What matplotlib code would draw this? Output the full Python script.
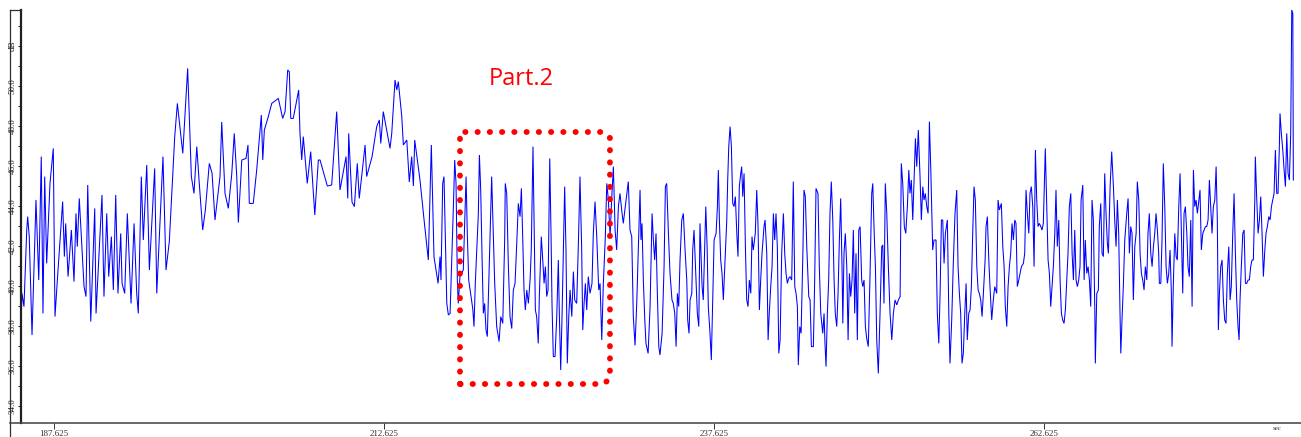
import numpy as np
import matplotlib
matplotlib.use("Agg")
import matplotlib.pyplot as plt
from matplotlib.lines import Line2D

#                            Recorded data                          #
# Sound level trace: time stamp (sec) and level (dB)
time_s = [
    185.13, 185.20, 185.35, 185.56, 185.63, 185.75, 185.96, 186.26, 186.47, 186.66,
    186.79, 186.92, 187.07, 187.32, 187.57, 187.70, 187.88, 188.28, 188.41, 188.51,
    188.69, 188.94, 189.14, 189.29, 189.39, 189.54, 189.90, 190.05, 190.18, 190.41,
    190.71, 190.81, 191.26, 191.41, 191.62, 191.77, 191.97, 192.12, 192.30, 192.47,
    192.68, 192.78, 192.98, 193.18, 193.46, 193.69, 193.89, 194.01, 194.24, 194.39,
    194.65, 194.85, 195.25, 195.41, 195.88, 196.11, 196.36, 196.77, 196.97, 197.38,
    197.75, 198.03, 198.23, 198.44, 198.63, 198.89, 199.09, 199.39, 199.60, 199.82,
    200.20,
    200.33, 200.58, 200.83, 201.09, 201.28, 201.47, 201.59, 201.85, 202.17, 202.32,
    202.42, 202.72, 202.98, 203.33, 203.44, 203.56, 203.86, 204.12, 204.62, 204.95,
    205.13, 205.33, 205.45, 205.56, 205.75, 206.16, 206.26, 206.39, 206.51, 206.81,
    207.07, 207.38, 207.65, 207.78, 208.33, 208.66, 209.04, 209.29, 209.75, 209.88,
    209.95, 210.20, 210.38, 210.60, 210.75, 211.19, 211.31, 211.72, 212.07, 212.27,
    212.38, 212.57, 213.08, 213.21, 213.46, 213.59, 213.71, 213.97, 214.09, 214.35,
    214.54, 214.72, 214.85, 214.95, 215.35, 215.66, 215.98, 216.21, 216.41, 216.72,
    216.87,
    216.94, 217.07, 217.17, 217.38, 217.50, 217.63, 217.88, 217.98, 218.08, 218.18,
    218.25, 218.38, 218.63, 218.84, 218.94, 219.04, 219.35, 219.44, 219.54, 219.77,
    219.85, 219.95, 220.05, 220.15, 220.25, 220.35, 220.45, 220.66, 220.78, 220.91,
    221.01, 221.16, 221.34, 221.47, 221.62, 221.77, 221.81, 221.92, 222.04, 222.17,
    222.30, 222.42, 222.55, 222.68, 222.80, 222.93, 223.03, 223.13, 223.23, 223.33,
    223.44, 223.56, 223.69, 223.78, 223.91, 224.01, 224.09, 224.19, 224.31, 224.39,
    224.54, 224.65, 224.75, 224.85, 224.95, 225.05, 225.18, 225.28, 225.35, 225.45,
    225.58, 225.71, 225.83, 225.91, 226.01, 226.11, 226.21, 226.31, 226.41, 226.51,
    226.62, 226.72, 226.85, 226.97, 227.07, 227.22, 227.35, 227.47, 227.60, 227.68,
    227.78, 227.88, 227.98, 228.10, 228.23, 228.38, 228.48, 228.61, 228.74, 228.89,
    228.99, 229.12, 229.24, 229.39, 229.50, 229.62, 229.75, 229.88, 230.00, 230.13,
    230.25, 230.38, 230.50, 230.63, 230.75, 231.13, 231.26, 231.39, 231.51, 231.64,
    231.77, 231.89,
    232.02, 232.09, 232.17, 232.27, 232.38, 232.47, 232.63, 232.78, 232.93, 233.03,
    233.13, 233.23, 233.33, 233.44, 233.53, 233.69, 233.84, 233.94, 234.04, 234.16,
    234.29, 234.44, 234.54, 234.65, 234.75, 234.85, 234.95, 235.05, 235.18, 235.30,
    235.43, 235.56, 235.63, 235.73, 235.81, 235.94, 236.01, 236.11, 236.26, 236.36,
    236.47, 236.56, 236.72, 236.81, 236.89, 237.00, 237.10, 237.19, 237.32, 237.42,
    237.50, 237.63, 237.78, 237.88, 237.95, 238.03, 238.13, 238.23, 238.33, 238.48,
    238.59, 238.66, 238.74, 238.84, 238.94, 239.04, 239.14, 239.24, 239.35, 239.44,
    239.54, 239.65, 239.72, 239.80, 239.90, 240.00, 240.10, 240.20, 240.30, 240.41,
    240.50, 240.60, 240.75, 240.86, 240.96, 241.06, 241.16, 241.26, 241.41, 241.49,
    241.62, 241.72, 241.81, 241.92, 242.02, 242.12, 242.22, 242.32, 242.42, 242.53,
    242.63, 242.75, 242.88, 242.98, 243.08, 243.18, 243.28, 243.38, 243.51, 243.63,
    243.74, 243.84, 243.94, 244.01, 244.12, 244.22, 244.35, 244.44, 244.54, 244.65,
    244.80, 244.90, 245.00, 245.15, 245.25, 245.35, 245.50, 245.60, 245.71, 245.86,
    245.96, 246.03, 246.11, 246.21, 246.31, 246.41, 246.51, 246.62, 246.72, 246.81,
    246.92, 247.02, 247.12, 247.22, 247.32, 247.38, 247.47, 247.57, 247.68, 247.78,
    247.88, 247.98, 248.08, 248.18, 248.28, 248.38, 248.48, 248.59, 248.69,
    248.81, 248.89, 248.99, 249.09, 249.19, 249.31, 249.44, 249.57, 249.65, 249.75,
    249.85, 249.95, 250.07, 250.20, 250.33, 250.41, 250.50, 250.60, 250.71, 250.83,
    250.96, 251.09, 251.21, 251.34, 251.47, 251.59, 251.72, 251.81, 251.92, 252.04,
    252.15, 252.27, 252.38, 252.47, 252.57, 252.68, 252.78, 252.88, 252.98, 253.10,
    253.23, 253.33, 253.44, 253.53, 253.63, 253.74, 253.84, 253.94, 254.04, 254.19,
    254.29, 254.44, 254.54, 254.65, 254.75, 254.85, 254.95, 255.05, 255.15, 255.30,
    255.41, 255.50, 255.63, 255.75, 255.88, 256.01, 256.11, 256.21, 256.31, 256.41,
    256.51, 256.62, 256.72, 256.81, 256.92, 257.02, 257.12, 257.22, 257.32, 257.42,
    257.53, 257.63, 257.72, 257.83, 257.93, 258.03, 258.16, 258.23, 258.33, 258.44,
    258.53, 258.66, 258.78, 258.89, 259.04, 259.14, 259.24, 259.39, 259.50, 259.60,
    259.69, 259.80, 259.90, 260.00, 260.10, 260.20, 260.30, 260.41, 260.50, 260.60,
    260.71, 260.81, 260.91, 261.06, 261.16, 261.26, 261.36, 261.47, 261.56, 261.66,
    261.77, 261.87, 261.97, 262.07, 262.17, 262.27, 262.38, 262.47, 262.57, 262.72,
    262.83, 262.93, 263.03, 263.13, 263.23, 263.33, 263.44, 263.53, 263.63, 263.74,
    263.84, 263.94, 264.04, 264.14, 264.24, 264.35, 264.44, 264.54, 264.65, 264.75,
    264.85, 264.95, 265.05, 265.15, 265.25, 265.35,
    265.43, 265.56, 265.66, 265.75, 265.86, 265.96, 266.06, 266.16, 266.26, 266.36,
    266.47, 266.51, 266.62, 266.74, 266.81, 266.92, 267.02, 267.12, 267.22, 267.32,
    267.42, 267.50, 267.63, 267.75, 267.88, 267.98, 268.08, 268.18, 268.28, 268.38,
    268.44, 268.53, 268.63, 268.74, 268.89, 268.99, 269.09, 269.19, 269.29, 269.39,
    269.50, 269.60, 269.69, 269.80, 269.90, 270.00, 270.10, 270.20, 270.30, 270.41,
    270.50, 270.60, 270.71, 270.81, 270.91, 271.01, 271.11, 271.21, 271.31, 271.36,
    271.47, 271.56, 271.66, 271.77, 271.87, 271.97, 272.07, 272.17, 272.27, 272.32,
    272.42, 272.53, 272.63, 272.72, 272.83, 272.93, 273.03, 273.13, 273.23, 273.33,
    273.44, 273.53, 273.63, 273.74, 273.84, 273.94, 274.04, 274.14, 274.24, 274.35,
    274.44, 274.54, 274.65, 274.75, 274.85, 274.95, 275.05, 275.15, 275.25, 275.35,
    275.45, 275.56, 275.66, 275.75, 275.83, 275.91, 276.01, 276.11, 276.21, 276.31,
    276.41, 276.51, 276.62, 276.72, 276.81, 276.92, 277.02, 277.12, 277.22, 277.32,
    277.40, 277.47, 277.57, 277.68, 277.78, 277.88, 277.98, 278.08, 278.18, 278.28,
    278.38, 278.48, 278.59, 278.63, 278.74, 278.84, 278.94, 279.04, 279.14, 279.24,
    279.35, 279.44, 279.54, 279.65, 279.75, 279.85, 279.95, 280.05, 280.15, 280.25,
    280.35, 280.45, 280.50, 280.60, 280.71, 280.81, 280.91, 281.01, 281.11, 281.21,
    281.31, 281.39, 281.47, 281.51,
]

level_db = [
    38.13, 39.63, 38.97, 42.80, 43.47, 42.47, 37.55, 44.30, 40.30, 46.47,
    38.63, 45.47, 41.13, 45.13, 46.88, 38.47, 40.30, 44.22, 41.47, 43.13,
    40.47, 42.80, 40.22, 43.63, 41.97, 44.38, 39.97, 39.47, 45.05, 38.22,
    43.88, 38.63, 44.55, 39.47, 43.63, 40.47, 42.47, 39.80, 44.55, 39.63,
    42.63, 40.13, 39.63, 43.63, 39.13, 43.13, 39.63, 38.63, 45.47, 42.30,
    46.05, 40.80, 45.88, 39.63, 46.47, 40.80, 42.22, 47.47, 49.13, 46.63,
    50.88, 45.47, 44.63, 46.97, 45.13, 42.80, 43.80, 46.13, 45.63, 43.30,
    45.47,
    48.20, 44.63, 43.88, 45.60, 47.63, 45.47, 43.17, 46.30, 46.38, 47.05,
    44.13, 44.13, 45.80, 48.55, 46.30, 47.80, 48.47, 49.13, 49.38, 48.38,
    48.72, 50.80, 50.72, 48.38, 48.38, 49.80, 47.63, 46.30, 47.47, 45.13,
    46.72, 43.55, 46.30, 46.30, 45.00, 45.05, 48.72, 44.80, 46.47, 44.38,
    47.63, 44.20, 43.97, 46.13, 44.38, 47.05, 45.47, 46.47, 47.97, 48.30,
    47.13, 48.72, 46.88, 47.63, 50.30, 49.80, 50.22, 48.47, 47.05, 47.30,
    45.20, 46.47, 45.00, 47.30, 45.30, 43.30, 41.30, 47.05, 41.47, 40.13,
    41.47,
    40.30, 45.13, 45.47, 39.13, 38.55, 38.63, 43.97, 46.30, 45.13, 40.30,
    39.13, 40.47, 40.80, 45.47, 42.47, 40.30, 38.85, 37.97, 40.13, 43.60,
    46.55, 44.80, 41.47, 38.63, 39.13, 37.80, 37.47, 42.47, 45.47, 42.47,
    40.13, 37.97, 37.22, 38.47, 38.13, 42.47, 45.13, 44.63, 41.13, 38.47,
    37.87, 39.80, 40.13, 42.13, 44.13, 43.47, 44.88, 42.47, 39.80, 38.80,
    39.80, 39.13, 40.30, 41.80, 46.97, 42.47, 38.80, 38.47, 37.13, 39.47,
    42.47, 41.30, 40.13, 40.97, 39.47, 39.80, 46.38, 42.47, 39.13, 36.47,
    36.47, 38.47, 41.30, 38.47, 35.80, 38.47, 41.63, 44.97, 41.80, 36.13,
    38.47, 39.80, 38.47, 40.72, 39.30, 39.13, 42.13, 45.47, 41.80, 37.80,
    39.13, 40.13, 38.80, 40.47, 39.63, 40.13, 42.63, 44.22, 42.47, 39.80,
    40.13, 37.30, 40.13, 42.47, 45.13, 44.30, 42.47, 44.47, 45.97, 42.80,
    41.80, 43.97, 44.63, 43.80, 43.13, 45.22, 42.80, 42.47, 38.47, 37.03,
    39.13, 41.80,
    44.80, 42.30, 43.13, 40.30, 38.30, 37.13, 36.63, 38.97, 43.63, 42.30,
    41.30, 42.63, 39.63, 36.97, 36.55, 37.63, 40.97, 44.97, 45.13, 42.80,
    40.63, 39.30, 39.13, 38.63, 36.97, 39.63, 38.97, 41.30, 43.30, 43.63,
    41.80, 40.30, 38.30, 37.63, 39.30, 39.63, 41.80, 42.80, 40.30, 38.63,
    37.97, 43.13, 39.97, 39.30, 41.30, 43.97, 41.97, 38.97, 37.63, 36.30,
    38.63, 42.30, 42.63, 43.97, 45.80, 43.30, 41.30, 40.63, 39.30, 41.63,
    43.30, 45.30, 46.97, 47.97, 46.97, 44.13, 43.97, 44.47, 42.63, 41.47,
    44.97, 45.63, 45.97, 44.47, 45.63, 41.97, 39.30, 38.97, 40.30, 39.63,
    42.47, 41.80, 42.63, 44.80, 42.97, 38.80, 40.30, 41.63, 42.97, 43.30,
    41.63, 37.30, 38.63, 39.97, 40.97, 43.63, 42.30, 43.63, 41.97, 36.63,
    37.30, 41.63, 43.63, 41.63, 40.63, 40.13, 40.38, 40.47, 40.30, 45.22,
    39.97, 39.63, 38.97, 36.05, 37.97, 37.63, 41.47, 44.80, 44.47, 41.97,
    39.47, 39.30, 36.97, 36.97, 40.30, 44.88, 44.63, 40.97, 38.63, 37.63,
    38.63, 37.13, 35.97, 38.63, 40.30, 43.63, 45.22, 43.30, 40.30, 38.63,
    37.97, 39.63, 42.30, 44.38, 40.97, 38.13, 41.63, 42.63, 40.97, 37.30,
    40.63, 39.47, 40.30, 42.80, 38.63, 41.63, 37.30, 42.80, 42.97,
    40.30, 39.97, 40.30, 37.97, 37.38, 36.97, 40.47, 44.63, 45.13, 42.80,
    40.97, 37.30, 35.63, 38.63, 41.97, 42.05, 39.13, 45.13, 43.63, 40.97,
    38.63, 37.30, 38.63, 39.30, 39.05, 39.30, 39.47, 46.13, 45.13, 42.97,
    42.63, 43.97, 45.80, 44.63, 45.30, 43.30, 45.30, 47.38, 45.97, 47.80,
    45.47, 43.30, 44.97, 44.30, 44.63, 43.97, 43.63, 48.22, 45.97, 41.80,
    42.30, 42.30, 38.63, 37.13, 39.63, 43.30, 43.30, 41.13, 42.63, 43.30,
    38.63, 36.13, 38.30, 41.13, 43.63, 44.80, 40.97, 39.63, 38.63, 36.13,
    36.63, 38.63, 40.13, 37.30, 38.63, 38.80, 39.97, 42.63, 44.97, 44.30,
    40.97, 39.80, 39.63, 39.30, 38.47, 39.63, 41.30, 42.97, 43.47, 41.30,
    39.97, 38.30, 39.30, 39.97, 39.63, 44.30, 43.80, 44.13, 41.97, 40.97,
    38.97, 37.97, 39.97, 40.97, 41.63, 43.13, 42.30, 43.30, 43.13, 39.97,
    40.30, 40.63, 40.97, 41.13, 41.63, 44.80, 43.63, 42.63, 44.63, 44.97,
    43.97, 40.97, 46.80, 44.30, 42.97, 43.13, 42.97, 42.80, 43.13, 46.88,
    43.97, 41.30, 40.63, 38.97, 39.97, 40.97, 42.63, 44.80, 41.97, 43.30,
    40.30, 38.63, 38.30, 38.13, 38.80, 40.30, 41.63, 43.97, 44.63, 41.63,
    40.30, 42.80, 40.30, 39.97, 40.30, 40.97,
    44.30, 45.05, 40.30, 42.30, 40.63, 40.97, 40.30, 38.97, 44.30, 43.30,
    38.80, 36.13, 39.63, 39.80, 42.97, 44.13, 41.63, 41.47, 45.63, 43.63,
    42.13, 41.63, 44.97, 46.72, 44.97, 43.30, 41.97, 44.30, 42.63, 38.63,
    36.63, 38.30, 39.97, 42.30, 43.63, 44.38, 41.63, 42.97, 42.63, 39.30,
    41.97, 42.63, 45.22, 44.30, 41.63, 40.63, 40.30, 39.80, 40.97, 40.30,
    42.63, 43.63, 41.63, 40.97, 41.97, 42.63, 43.63, 42.80, 41.63, 40.13,
    40.13, 42.30, 46.13, 43.97, 40.97, 40.13, 40.63, 41.80, 39.63, 36.97,
    40.13, 42.63, 41.47, 41.30, 43.97, 45.63, 42.63, 39.63, 43.63, 43.97,
    42.63, 40.97, 40.47, 43.30, 38.97, 45.80, 43.97, 44.30, 43.63, 44.30,
    44.80, 41.80, 42.63, 42.80, 42.97, 42.97, 43.30, 45.30, 43.97, 42.63,
    43.97, 44.30, 45.97, 43.30, 37.80, 39.63, 40.97, 41.30, 39.30, 38.30,
    38.13, 40.63, 41.97, 39.30, 39.97, 42.63, 44.63, 41.63, 39.30, 37.97,
    37.30, 39.30, 40.97, 42.63, 42.80, 40.13, 40.13, 40.30, 40.30, 40.97,
    41.30, 41.30, 44.30, 46.47, 44.30, 42.63, 43.30, 44.47, 42.63, 40.47,
    41.80, 42.63, 42.97, 43.47, 43.30, 43.97, 44.30, 44.63, 46.80, 44.63,
    44.63, 46.97, 48.63, 47.63, 46.80, 45.80, 44.97, 47.63, 45.63, 45.30,
    47.63, 53.80, 53.63, 45.30,
]

# Axis ticks
x_ticks = [187.625, 212.625, 237.625, 262.625]
x_tick_labels = ["187.625", "212.625", "237.625", "262.625"]
y_ticks = [34, 36, 38, 40, 42, 44, 46, 48, 50, 52]
y_tick_labels = ["34.0", "36.0", "38.0", "40.0", "42.0", "44.0", "46.0", "48.0", "50.0", "dB"]

# Section marked on the trace
part_label = "Part.2"
part_start, part_end = 218.38, 229.74
part_low, part_high = 35.1, 47.7

W, H = 1301, 437


#                            Plotting                          #
def px(x, y):
    # figure fraction from pixel position (origin top left)
    return x / W, 1 - y / H


def dotted_box(ax, x0, x1, y0, y1, cut_x=0.45, cut_y=0.3):
    # red dotted frame, right-hand corners cut off a little
    xs = [x0, x0, x1 - cut_x, x1, x1, x1 - cut_x, x0]
    ys = [y0, y1, y1, y1 - cut_y, y0 + cut_y, y0, y0]
    ax.plot(xs, ys, color="#ff0000", lw=4.2, linestyle=(0, (0.05, 2.05)),
            dash_capstyle="round", solid_joinstyle="round", zorder=3)


plt.rcParams["font.family"] = ["Liberation Serif", "DejaVu Serif"]
fig = plt.figure(figsize=(W / 100, H / 100), dpi=100)
x0, y0 = px(21, 423)
ax = fig.add_axes([x0, y0, 1280 / W, 413 / H])

ax.plot(time_s, level_db, color="#0000ff", lw=0.75, solid_joinstyle="miter")

ax.set_xlim(185.125, 282.09)
ax.set_ylim(33.15, 53.8)

# Ticks and labels
ax.set_xticks(x_ticks)
ax.set_xticklabels(x_tick_labels)
ax.set_yticks(y_ticks)
ax.set_yticklabels(y_tick_labels, rotation=90, va="center")
ax.set_yticks(np.arange(35, 54, 2), minor=True)
ax.tick_params(axis="x", direction="out", length=4, width=0.7, pad=1,
               labelsize=6.5, colors="#333333")
ax.tick_params(axis="y", which="both", direction="out", length=2, width=0.7,
               pad=1, labelsize=6.5, colors="#222222")

for side in ["top", "right"]:
    ax.spines[side].set_visible(False)
ax.spines["left"].set_linewidth(1.6)
ax.spines["left"].set_color("#202020")
ax.spines["bottom"].set_linewidth(1.1)
ax.spines["bottom"].set_color("#404040")

# Frame around the level scale
fig.add_artist(Line2D([px(10, 0)[0], px(10, 0)[0]], [px(0, 437)[1], px(0, 10)[1]],
                      color="#303030", lw=0.9))
fig.add_artist(Line2D([px(10, 0)[0], px(21, 0)[0]], [px(0, 10)[1], px(0, 10)[1]],
                      color="#303030", lw=0.9))
fig.add_artist(Line2D([px(10, 0)[0], px(21, 0)[0]], [px(0, 423)[1], px(0, 423)[1]],
                      color="#404040", lw=1.1))
fig.text(*px(1277, 429), "sec", fontsize=5, ha="center", va="center", color="#333333")

# Marked section
dotted_box(ax, part_start, part_end, part_low, part_high)
ax.text(223.0, 50.35, part_label, color="#ff0000", fontsize=17,
        family=["Open Sans", "DejaVu Sans"], ha="center", va="center")

plt.savefig("out.png", dpi=100)
